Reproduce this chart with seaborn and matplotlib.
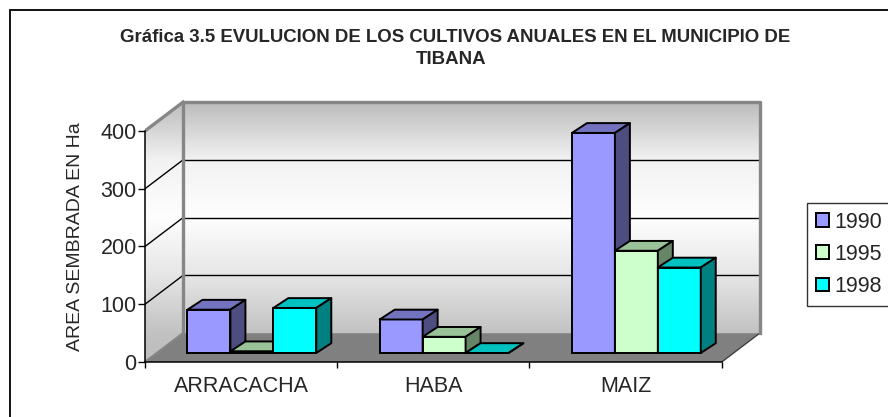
import matplotlib
matplotlib.use("Agg")  # no display

import matplotlib.pyplot as plt
import numpy as np
import pandas as pd
import seaborn as sns
from matplotlib.colors import LinearSegmentedColormap
from matplotlib.patches import Patch, Polygon, Rectangle

sns.set_theme(style="white")
plt.rcParams["font.family"] = ["Liberation Sans", "DejaVu Sans"]

# --- data ---
cultivos = ["ARRACACHA", "HABA", "MAIZ"]
anios = ["1990", "1995", "1998"]
area_1990 = [75, 58, 381]
area_1995 = [3, 28, 177]
area_1998 = [78, 0, 148]
y_ticks = [0, 100, 200, 300, 400]

titulo_1 = "Gráfica 3.5 EVULUCION DE LOS CULTIVOS ANUALES EN EL MUNICIPIO DE"
titulo_2 = "TIBANA"
etiqueta_y = "AREA SEMBRADA EN Ha"

# face colours per year: front, top, side
c_front = ["#9999FF", "#CCFFCC", "#00FFFF"]
c_top = ["#7373BF", "#99C299", "#00C0C0"]
c_side = ["#4D4D80", "#668566", "#008080"]

# fake 3D geometry (data units): wall depth and bar placement/depth
DX, DY = 0.198, 50.0
BAR_X, BAR_Y = 0.056, 15.6
BAR_DX, BAR_DY = 0.078, 17.0
X0, X1 = -0.5, 2.5
YTOP = 400

df = pd.DataFrame({
    "cultivo": cultivos * 3,
    "anio": np.repeat(anios, len(cultivos)),
    "area": area_1990 + area_1995 + area_1998,
})

fig = plt.figure(figsize=(8.88, 4.17), dpi=100)
ax = fig.add_axes([145 / 888, 55 / 417, 619 / 888, 262.8 / 417])
ax.set_facecolor("none")

# walls with a grey-white-grey gradient
wall_cmap = LinearSegmentedColormap.from_list("pared", [
    (0.0, "#bdbdbd"), (0.111, "#c2c2c2"), (0.333, "#e6e6e6"),
    (0.556, "#fefefe"), (0.778, "#f2f2f2"), (1.0, "#bcbcbc"),
])
grad = np.linspace(0, 1, 256).reshape(-1, 1)
ytop_all = YTOP + DY
back_wall = Polygon([(X0 + DX, DY), (X1 + DX, DY), (X1 + DX, ytop_all), (X0 + DX, ytop_all)],
                    closed=True, transform=ax.transData)
side_wall = Polygon([(X0, 0), (X0 + DX, DY), (X0 + DX, ytop_all), (X0, YTOP)],
                    closed=True, transform=ax.transData)
for clip in (back_wall, side_wall):
    im = ax.imshow(grad, cmap=wall_cmap, origin="lower", aspect="auto",
                   extent=(X0, X1 + DX, 0, ytop_all), zorder=0.5)
    im.set_clip_path(clip)

# floor
ax.add_patch(Polygon([(X0, 0), (X1, 0), (X1 + DX, DY), (X0 + DX, DY)],
                     closed=True, facecolor="#808080", edgecolor="none", zorder=1))
ax.plot([X1, X1 + DX], [0, DY], color="#404040", lw=1, zorder=1.2)

# gridlines on back and side wall
for v in y_ticks[1:-1]:
    ax.plot([X0 + DX, X1 + DX], [v + DY, v + DY], color="black", lw=1, zorder=1.1)
    ax.plot([X0, X0 + DX], [v, v + DY], color="black", lw=1, zorder=1.1)

# wall edges
edge = dict(color="#868686", lw=2.4, zorder=1.3, solid_capstyle="projecting")
ax.plot([X0 + DX, X0 + DX, X1 + DX, X1 + DX], [DY, ytop_all, ytop_all, DY], **edge)
ax.plot([X0, X0 + DX], [YTOP, ytop_all], **edge)
ax.plot([X0, X0 + DX], [0, DY], color="#868686", lw=1.6, zorder=1.3)

# front faces through seaborn, then top and side faces on top of them
sns.barplot(data=df, x="cultivo", y="area", hue="anio", palette=c_front,
            width=0.67, saturation=1, edgecolor="black", linewidth=1.4,
            errorbar=None, legend=False, ax=ax)

for k, cont in enumerate(ax.containers):
    for bar in cont:
        bar.set_x(bar.get_x() + BAR_X)
        bar.set_y(bar.get_y() + BAR_Y)
        bar.set_zorder(10 + k)
        x0, y0 = bar.get_x(), bar.get_y()
        x1, y1 = x0 + bar.get_width(), y0 + bar.get_height()
        ax.add_patch(Polygon([(x0, y1), (x1, y1), (x1 + BAR_DX, y1 + BAR_DY), (x0 + BAR_DX, y1 + BAR_DY)],
                             closed=True, facecolor=c_top[k], edgecolor="black",
                             lw=1.4, joinstyle="round", zorder=10 + k))
        ax.add_patch(Polygon([(x1, y0), (x1 + BAR_DX, y0 + BAR_DY), (x1 + BAR_DX, y1 + BAR_DY), (x1, y1)],
                             closed=True, facecolor=c_side[k], edgecolor="black",
                             lw=1.4, joinstyle="round", zorder=10 + k))

ax.set_xlim(X0, 2.72)
ax.set_ylim(0, 455)
ax.set_xlabel("")
ax.set_ylabel("")

for s in ("top", "right"):
    ax.spines[s].set_visible(False)
ax.spines["left"].set_bounds(0, YTOP)
ax.spines["bottom"].set_bounds(X0, X1)
for s in ("left", "bottom"):
    ax.spines[s].set_color("black")
    ax.spines[s].set_linewidth(1.1)

ax.set_yticks(y_ticks)
ax.set_yticklabels([str(v) for v in y_ticks], fontsize=15.5)
ax.tick_params(axis="y", left=True, direction="out", length=5, width=1, color="black", pad=1)
ax.set_xticks([X0, 0.5, 1.5, X1])
ax.set_xticklabels([])
ax.set_xticks(range(len(cultivos)), minor=True)
ax.set_xticklabels(cultivos, minor=True, fontsize=15.5)
ax.tick_params(axis="x", which="major", bottom=True, direction="out", length=4, width=1, color="black")
ax.tick_params(axis="x", which="minor", bottom=True, length=0, pad=10)

# titles and axis label
fig.text(455 / 888, 1 - 41.7 / 417, titulo_1, ha="center", va="baseline",
         fontsize=13.4, fontweight="bold")
fig.text(451 / 888, 1 - 64.3 / 417, titulo_2, ha="center", va="baseline",
         fontsize=13.4, fontweight="bold")
fig.text(75 / 888, 1 - 237 / 417, etiqueta_y, rotation=90, ha="center", va="center", fontsize=14)

# legend
handles = [Patch(facecolor=c, edgecolor="black", linewidth=1.4) for c in c_front]
leg = fig.legend(handles, anios, loc="upper left", bbox_to_anchor=(807 / 888, 1 - 203 / 417),
                 frameon=True, fancybox=False, fontsize=15.5, handlelength=0.6, handleheight=0.6,
                 handletextpad=0.25, labelspacing=0.52, borderpad=0.4, borderaxespad=0)
leg.get_frame().set_edgecolor("black")
leg.get_frame().set_linewidth(1)

# chart border (right and bottom fall outside the picture)
fig.patches.append(Rectangle((10 / 888, -0.05), 1.1, 1 - 10 / 417 + 0.05, transform=fig.transFigure,
                             fill=False, edgecolor="black", lw=1.3))

fig.savefig("out.png", dpi=100)
plt.close(fig)
